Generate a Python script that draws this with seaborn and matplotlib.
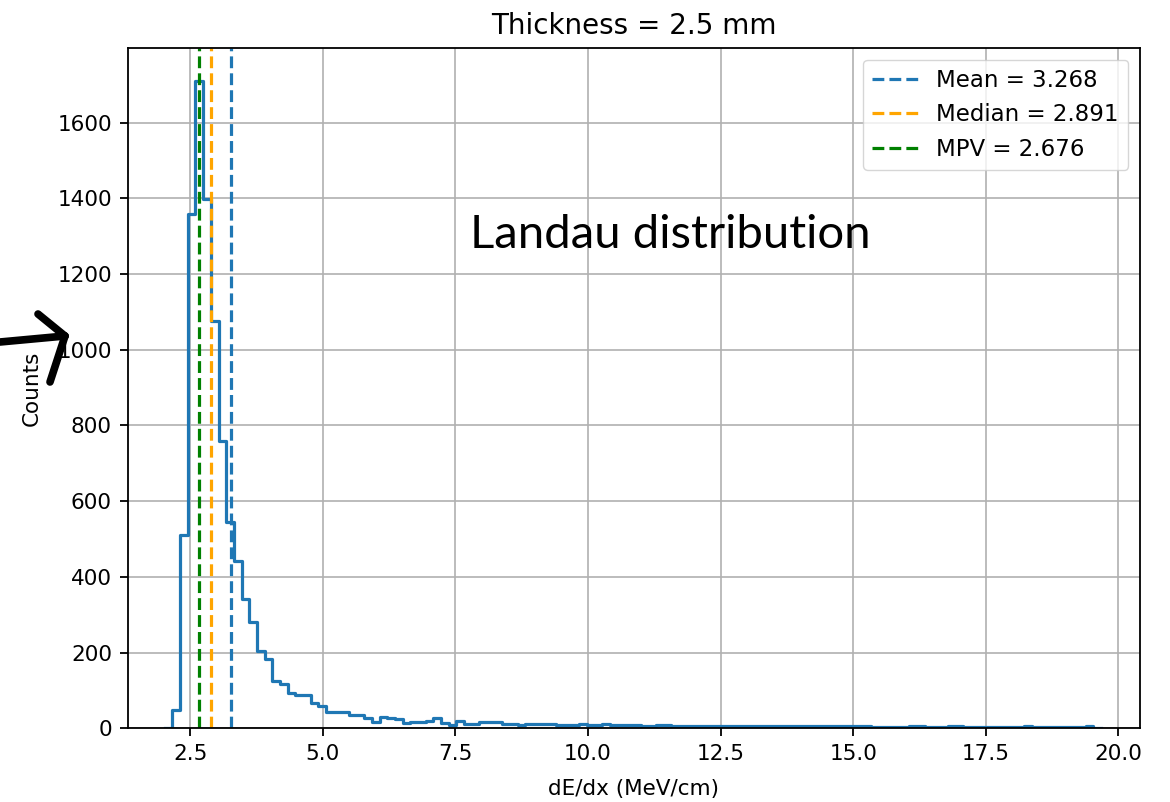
import numpy as np
import pandas as pd
import matplotlib.pyplot as plt
import seaborn as sns
from matplotlib.lines import Line2D

## histogram: 120 equal bins between x_min and x_max
x_min = 2.167
x_max = 19.53
n_bins = 120

counts = [49, 510, 1359, 1711, 1399, 1075, 759, 545, 441, 342,
          280, 205, 182, 126, 117, 94, 88, 88, 67, 59,
          43, 43, 43, 35, 35, 28, 17, 30, 26, 24,
          14, 17, 17, 20, 26, 14, 9, 20, 11, 11,
          17, 17, 17, 12, 12, 8, 12, 12, 12, 12,
          8, 8, 8, 12, 8, 8, 11, 8, 8, 8,
          8, 7, 7, 8, 8, 6, 7, 7, 6, 7,
          6, 7, 6, 6, 7, 6, 6, 5, 6, 6,
          5, 6, 5, 6, 5, 5, 6, 5, 6, 6,
          5, 3, 3, 3, 3, 3, 5, 5, 3, 3,
          3, 5, 5, 3, 3, 3, 3, 3, 3, 3,
          3, 5, 3, 3, 2, 3, 3, 2, 3, 5]

mean_val = 3.268
median_val = 2.891
mpv_val = 2.676

## one empty bin on each side so the outline starts and ends at zero
w = (x_max - x_min) / n_bins
edges = np.linspace(x_min - w, x_max + w, n_bins + 3)
centers = (edges[:-1] + edges[1:]) / 2
df = pd.DataFrame({'dedx': centers, 'n': [0] + counts + [0]})

plt.rcParams['font.size'] = 15.5
plt.rcParams['axes.linewidth'] = 1.3
for a in ['xtick', 'ytick']:
    plt.rcParams[a + '.major.width'] = 1.3
    plt.rcParams[a + '.major.size'] = 5.6
    plt.rcParams[a + '.major.pad'] = 5.6

fig, ax = plt.subplots(figsize=(11.7, 8.02), dpi=100)
fig.subplots_adjust(left=0.109, right=0.974, top=0.940, bottom=0.092)

sns.histplot(data=df, x='dedx', weights='n', bins=n_bins + 2, binrange=(x_min - w, x_max + w),
             element='step', fill=False, color='C0', linewidth=2.3, ax=ax)

ax.axvline(mean_val, color='C0', linestyle='--', linewidth=2.3, label='Mean = {:.3f}'.format(mean_val))
ax.axvline(median_val, color='orange', linestyle='--', linewidth=2.3, label='Median = {:.3f}'.format(median_val))
ax.axvline(mpv_val, color='green', linestyle='--', linewidth=2.3, label='MPV = {:.3f}'.format(mpv_val))

ax.set_xlim(1.32, 20.40)
ax.set_title('Thickness = 2.5 mm', fontsize=20, pad=10)
ax.set_xlabel('dE/dx (MeV/cm)', labelpad=11)
ax.set_ylabel('Counts', labelpad=11)
ax.grid(True, color='#b0b0b0', linewidth=1.2)
ax.set_axisbelow(True)
ax.legend(loc='upper right', fontsize=16.5)

ax.text(0.338, 0.725, 'Landau distribution', transform=ax.transAxes,
        fontsize=34, family='Lato', va='center', ha='left')

## hand drawn arrow on the left
for xs, ys in [([0, 65], [342, 336]), ([38, 65], [314, 336]), ([65, 50], [336, 382])]:
    fig.add_artist(Line2D([x / 1170 for x in xs], [1 - y / 802 for y in ys],
                          transform=fig.transFigure, color='black', linewidth=5.5,
                          solid_capstyle='round'))

fig.savefig('out.png')
